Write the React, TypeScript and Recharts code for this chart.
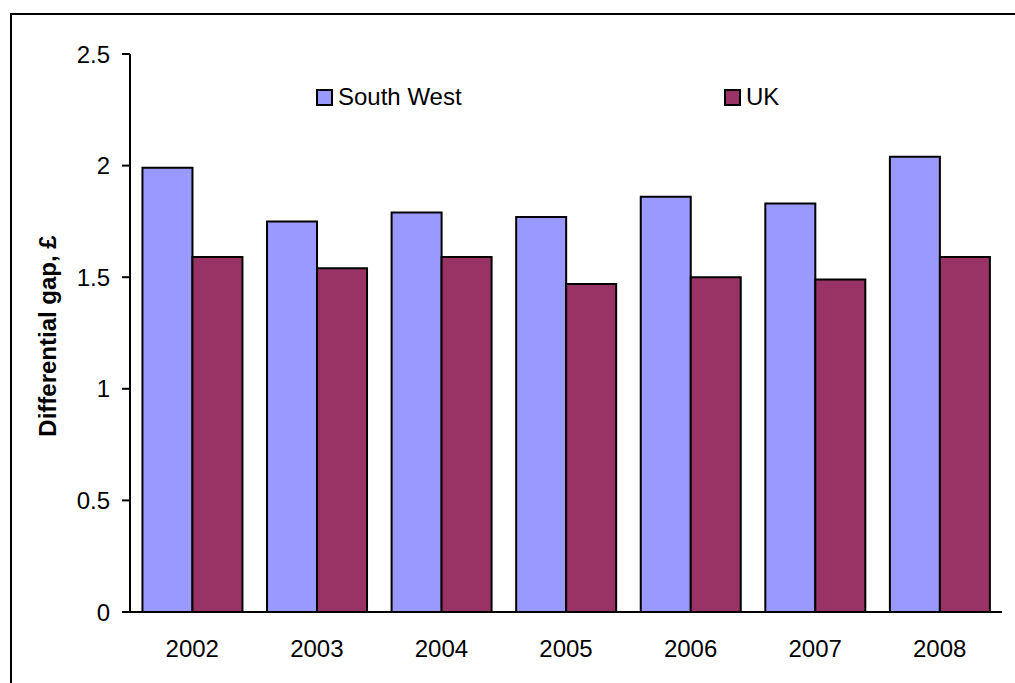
/**
 * Differential gap, South West vs UK, 2002-2008.
 */
import React from 'react';
import { BarChart, Bar, XAxis, YAxis, Legend } from 'recharts';

const years = ['2002', '2003', '2004', '2005', '2006', '2007', '2008'];
const southWest = [1.99, 1.75, 1.79, 1.77, 1.86, 1.83, 2.04];
const uk = [1.59, 1.54, 1.59, 1.47, 1.50, 1.49, 1.59];
const yTicks = [0, 0.5, 1, 1.5, 2, 2.5];
const edgeTicks = [0, 1, 2, 3, 4, 5, 6, 7];

const data = years.map((year, i) => ({ year, southWest: southWest[i], uk: uk[i] }));

const FONT = '"Liberation Sans", Arial, sans-serif';

const LegendContent = ({ payload }: any) => (
    <div style={{ display: 'flex', fontFamily: FONT, fontSize: 24, lineHeight: '28px', color: '#000' }}>
        {(payload || []).map((p: any, i: number) => (
            <div key={i} style={{ display: 'flex', alignItems: 'center', width: i === 0 ? 408 : 'auto' }}>
                <span style={{
                    display: 'inline-block', width: 13, height: 13, background: p.color,
                    border: '2px solid #000', marginRight: 5,
                }} />
                <span>{p.value}</span>
            </div>
        ))}
    </div>
);

export default function App() {
    return (
        <div style={{ position: 'absolute', left: 0, top: 0, width: 1015, height: 683, background: '#fff', overflow: 'hidden' }}>
            <div style={{
                position: 'absolute', left: 10, top: 13, width: 1020, height: 700,
                border: '2px solid #000', boxSizing: 'border-box',
            }} />
            <div style={{
                position: 'absolute', left: 48, top: 336, transform: 'translate(-50%, -50%) rotate(-90deg)',
                fontFamily: FONT, fontSize: 24, fontWeight: 'bold', whiteSpace: 'nowrap', color: '#000',
            }}>
                Differential gap, £
            </div>
            <div style={{ position: 'absolute', left: 0, top: 0 }}>
                <BarChart width={1015} height={683} data={data}
                    margin={{ top: 54, right: 13, left: 0, bottom: 11 }}
                    barCategoryGap="10%" barGap={0}>
                    <XAxis xAxisId="edges" type="number" domain={[0, 7]} ticks={edgeTicks}
                        height={0} tick={false} tickSize={8} axisLine={false}
                        tickLine={{ stroke: '#000', strokeWidth: 2 }} />
                    <XAxis dataKey="year" height={60} tickLine={false} tickSize={8} tickMargin={20}
                        interval={0}
                        axisLine={{ stroke: '#000', strokeWidth: 2 }}
                        tick={{ fill: '#000', fontSize: 24, fontFamily: FONT }} />
                    <YAxis domain={[0, 2.5]} ticks={yTicks} width={130} tickSize={8} tickMargin={12}
                        interval={0}
                        axisLine={{ stroke: '#000', strokeWidth: 2 }}
                        tickLine={{ stroke: '#000', strokeWidth: 2 }}
                        tick={{ fill: '#000', fontSize: 24, fontFamily: FONT }}
                        tickFormatter={(v: number) => String(v)} />
                    <Legend verticalAlign="middle" align="center" content={<LegendContent />}
                        wrapperStyle={{ top: 83, left: 316, width: 600 }} />
                    <Bar dataKey="southWest" name="South West" fill="#9999FF" stroke="#000"
                        strokeWidth={2} isAnimationActive={false} />
                    <Bar dataKey="uk" name="UK" fill="#993366" stroke="#000"
                        strokeWidth={2} isAnimationActive={false} />
                </BarChart>
            </div>
        </div>
    );
}
